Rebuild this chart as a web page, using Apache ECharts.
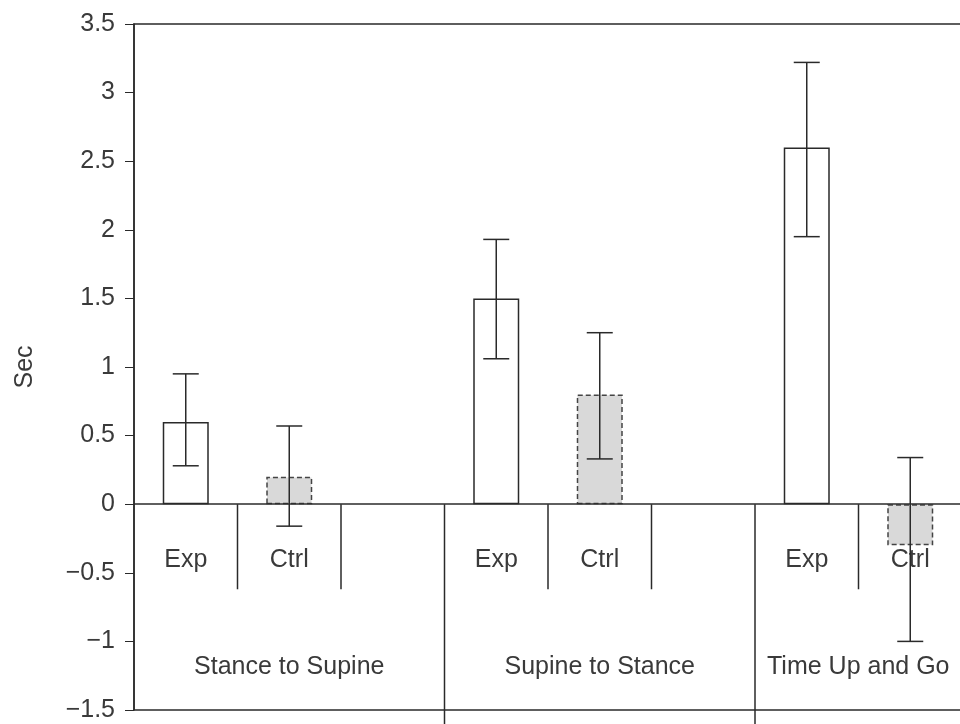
<!DOCTYPE html>
<html>
<head>
<meta charset="utf-8">
<script src="https://cdn.jsdelivr.net/npm/echarts@6/dist/echarts.min.js"></script>
<style>
  html, body { margin: 0; padding: 0; background: #fff; }
  #main { width: 960px; height: 724px; }
</style>
</head>
<body>
<div id="main"></div>
<script>
// slots along the x axis, third slot of each group is left empty
var slots = ['Exp', 'Ctrl', '', 'Exp', 'Ctrl', '', 'Exp', 'Ctrl'];
var groups = ['Stance to Supine', 'Supine to Stance', 'Time Up and Go'];

var expMean = [0.6, 1.5, 2.6];
var expLow = [0.28, 1.06, 1.95];
var expHigh = [0.95, 1.93, 3.22];

var ctrlMean = [0.2, 0.8, -0.3];
var ctrlLow = [-0.16, 0.33, -1.0];
var ctrlHigh = [0.57, 1.25, 0.34];

var yMin = -1.5, yMax = 3.5, yStep = 0.5;

// divider lines under the zero line (slot boundaries)
var shortDividers = [1, 2, 4, 5, 7];
var longDividers = [3, 6];

var font = 'Liberation Sans, Arial, sans-serif';
var ink = '#2a2a2a';

var chart = echarts.init(document.getElementById('main'));

var expData = slots.map(function () { return '-'; });
var ctrlData = slots.map(function () { return '-'; });
var errData = [];
for (var g = 0; g < groups.length; g++) {
    expData[g * 3] = expMean[g];
    ctrlData[g * 3 + 1] = ctrlMean[g];
    errData.push([g * 3, expLow[g], expHigh[g]]);
    errData.push([g * 3 + 1, ctrlLow[g], ctrlHigh[g]]);
}

var groupLabels = slots.map(function (s, i) {
    if (i % 3 !== 1) return '';
    var name = groups[(i - 1) / 3];
    if (i === slots.length - 1) {
        // last group is cut off at the right edge, its label sits left
        return { value: name, textStyle: { padding: [0, 104, 0, 0] } };
    }
    return name;
});

var dividerData = shortDividers.map(function (b) { return [b, -0.62]; })
    .concat(longDividers.map(function (b) { return [b, -1.62]; }));

option = {
    animation: false,
    grid: {
        left: 134,
        right: -2,
        top: 24,
        bottom: 14,
        outerBoundsMode: 'none',
        containLabel: false,
        show: true,
        borderColor: ink,
        borderWidth: 1.5
    },
    xAxis: [
        {
            type: 'category',
            data: slots,
            position: 'bottom',
            axisLine: { show: false, onZero: false },
            axisTick: { show: false },
            axisLabel: {
                interval: 0,
                inside: true,
                margin: 137,
                fontFamily: font,
                fontSize: 25,
                color: '#3a3a3a'
            }
        },
        {
            type: 'category',
            data: groupLabels,
            position: 'bottom',
            axisLine: { show: false, onZero: false },
            axisTick: { show: false },
            axisLabel: {
                interval: 0,
                inside: true,
                margin: 30,
                fontFamily: font,
                fontSize: 25,
                color: '#3a3a3a'
            }
        }
    ],
    yAxis: {
        type: 'value',
        min: yMin,
        max: yMax,
        interval: yStep,
        name: 'Sec',
        nameLocation: 'middle',
        nameGap: 96,
        nameTextStyle: { fontFamily: font, fontSize: 25, color: '#3a3a3a' },
        axisLine: { show: true, lineStyle: { color: ink, width: 1.5 } },
        axisTick: { show: true, length: 9, lineStyle: { color: ink } },
        splitLine: { show: false },
        axisLabel: {
            margin: 19,
            fontFamily: font,
            fontSize: 25,
            color: '#3a3a3a',
            formatter: function (v) { return String(v).replace('-', '\u2212'); }
        }
    },
    series: [
        {
            name: 'Exp',
            type: 'bar',
            data: expData,
            barWidth: 46,
            barGap: '-100%',
            itemStyle: { color: '#ffffff', borderColor: ink, borderWidth: 1.5 },
            markLine: {
                silent: true,
                symbol: 'none',
                label: { show: false },
                lineStyle: { color: ink, width: 1.5, type: 'solid' },
                data: [{ yAxis: 0 }]
            }
        },
        {
            name: 'Ctrl',
            type: 'bar',
            data: ctrlData,
            barWidth: 46,
            barGap: '-100%',
            itemStyle: { color: '#d9d9d9', borderColor: '#444', borderWidth: 1.5, borderType: [5, 3] }
        },
        {
            name: 'error',
            type: 'custom',
            data: errData,
            z: 5,
            renderItem: function (params, api) {
                var lo = api.coord([api.value(0), api.value(1)]);
                var hi = api.coord([api.value(0), api.value(2)]);
                var half = 13;
                var style = { stroke: ink, lineWidth: 1.5 };
                return {
                    type: 'group',
                    children: [
                        { type: 'line', shape: { x1: lo[0], y1: lo[1], x2: hi[0], y2: hi[1] }, style: style },
                        { type: 'line', shape: { x1: lo[0] - half, y1: lo[1], x2: lo[0] + half, y2: lo[1] }, style: style },
                        { type: 'line', shape: { x1: hi[0] - half, y1: hi[1], x2: hi[0] + half, y2: hi[1] }, style: style }
                    ]
                };
            }
        },
        {
            name: 'dividers',
            type: 'custom',
            data: dividerData,
            clip: false,
            renderItem: function (params, api) {
                var band = api.size([1, 0])[0];
                var top = api.coord([api.value(0), 0]);
                var bot = api.coord([api.value(0), api.value(1)]);
                var x = top[0] - band / 2;
                return {
                    type: 'line',
                    shape: { x1: x, y1: top[1], x2: x, y2: bot[1] },
                    style: { stroke: ink, lineWidth: 1.5 }
                };
            }
        }
    ]
};

chart.setOption(option);
</script>
</body>
</html>
